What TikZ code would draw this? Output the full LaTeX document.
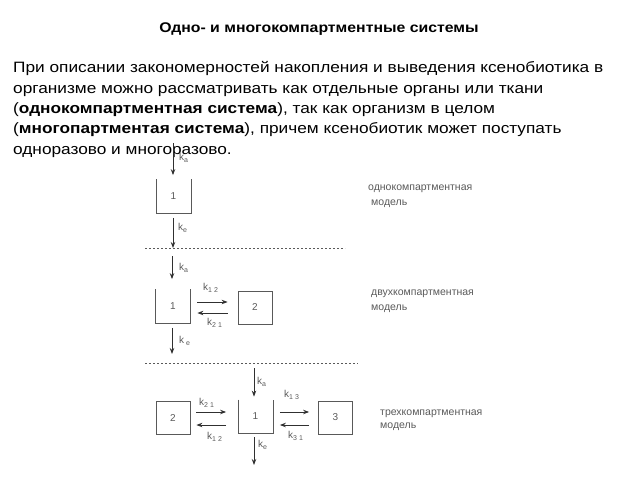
\documentclass[tikz,border=0pt]{standalone}
\usepackage{fontspec}
\setmainfont{Liberation Sans}
\newfontfamily\widefont{Liberation Sans}[FakeStretch=1.15]
\newfontfamily\titlefont{Liberation Sans}[FakeStretch=1.13]
\usetikzlibrary{arrows.meta}
\definecolor{lbl}{HTML}{5A5A5A}
\definecolor{ln}{HTML}{303030}
\tikzset{
  arr/.style={draw=ln, line width=0.9pt, -{Stealth[length=6pt,width=4.5pt]}},
  boxc/.style={draw=ln!80, line width=0.8pt, minimum width=34pt, minimum height=33pt, inner sep=0pt, text=lbl, font=\fontsize{10}{12}\selectfont},
  boxo/.style={boxc, draw=none},
  kl/.style={anchor=west, inner sep=0pt, text=lbl, font=\fontsize{10}{12}\selectfont},
  note/.style={anchor=base west, inner sep=0pt, text=lbl, align=left, font=\fontsize{10.5}{14}\selectfont},
  para/.style={anchor=base west, inner sep=0pt, font=\widefont\fontsize{15}{20}\selectfont},
  sep/.style={draw=lbl, line width=0.6pt, dash pattern=on 2pt off 2pt},
}
\begin{document}
\begin{tikzpicture}[x=1pt,y=-1pt]
\useasboundingbox (0,0) rectangle (640,480);
\node[anchor=base, inner sep=0pt, font=\titlefont\bfseries\fontsize{14}{16}\selectfont] (title) at (319,32) {Одно- и многокомпартментные системы};
\node[para] (p1) at (13,72) {При описании закономерностей накопления и выведения ксенобиотика в};
\node[para] (p2) at (13,93) {организме можно рассматривать как отдельные органы или ткани};
\node[para] (p3) at (13,113) {(\textbf{однокомпартментная система}), так как организм в целом};
\node[para] (p4) at (13,133) {(\textbf{многопартментая система}), причем ксенобиотик может поступать};
\node[para] (p5) at (13,154) {одноразово и многоразово.};

% ---- one-compartment
\node[boxo] (A1) at (173.5,196) {1};
\draw[draw=ln!80, line width=0.8pt] (A1.north west) -- (A1.south west) -- (A1.south east) -- (A1.north east);
\coordinate (A1in) at (173,143);
\coordinate (A1out) at (173,248);
\draw[arr, shorten >=4pt] (A1in) -- (A1in |- A1.north);
\draw[arr, shorten <=5pt] (A1in |- A1.south) -- (A1out);
\node[kl] (A1ka) at (179,158) {k\textsubscript{a}};
\node[kl] (A1ke) at (178,228) {k\textsubscript{e}};
\coordinate (s1a) at (145,248);
\coordinate (s1b) at (345,248);
\draw[sep] (s1a) -- (s1b);
\node[note] (n1) at (368,205) {однокомпартментная\\[1pt]\hspace*{3pt}модель};

% ---- two-compartment
\node[boxo] (B1) at (173,306) {1};
\draw[draw=ln!80, line width=0.8pt] (B1.north west) -- (B1.south west) -- (B1.south east) -- (B1.north east);
\node[boxc] (B2) at (255,307.5) {2};
\coordinate (B1in) at (172,256);
\coordinate (B1out) at (172,354);
\draw[arr, shorten >=10pt] (B1in) -- (B1in |- B1.north);
\draw[arr, shorten <=5pt] (B1in |- B1.south) -- (B1out);
\draw[arr, shorten <=7pt, shorten >=10pt] (B1.east |- 0,302) -- (B2.west |- 0,302);
\draw[arr, shorten <=10pt, shorten >=7pt] (B2.west |- 0,313) -- (B1.east |- 0,313);
\node[kl] (B1ka) at (179,268) {k\textsubscript{a}};
\node[kl] (B1ke) at (179,341) {k\textsubscript{ e}};
\node[kl] (B12) at (203,288) {k\textsubscript{1 2}};
\node[kl] (B21) at (207,323) {k\textsubscript{2 1}};
\coordinate (s2a) at (145,363);
\coordinate (s2b) at (358,363);
\draw[sep] (s2a) -- (s2b);
\node[note] (n2) at (371,310) {двухкомпартментная\\[1pt]модель};

% ---- three-compartment
\node[boxo] (C1) at (255.5,416.5) {1};
\draw[draw=ln!80, line width=0.8pt] (C1.north west) -- (C1.south west) -- (C1.south east) -- (C1.north east);
\node[boxc] (C2) at (173,418) {2};
\node[boxc] (C3) at (335.5,417.5) {3};
\coordinate (C1in) at (254,368);
\coordinate (C1out) at (254,465);
\draw[arr, shorten >=3pt] (C1in) -- (C1in |- C1.north);
\draw[arr, shorten <=4pt] (C1in |- C1.south) -- (C1out);
\draw[arr, shorten <=6pt, shorten >=12pt] (C2.east |- 0,412) -- (C1.west |- 0,412);
\draw[arr, shorten <=12pt, shorten >=6pt] (C1.west |- 0,425) -- (C2.east |- 0,425);
\draw[arr, shorten <=7pt, shorten >=9pt] (C1.east |- 0,412) -- (C3.west |- 0,412);
\draw[arr, shorten <=9pt, shorten >=7pt] (C3.west |- 0,425) -- (C1.east |- 0,425);
\node[kl] (C1ka) at (257,382) {k\textsubscript{a}};
\node[kl] (C1ke) at (258,445) {k\textsubscript{e}};
\node[kl] (C21) at (199,403) {k\textsubscript{2 1}};
\node[kl] (C12) at (207,437) {k\textsubscript{1 2}};
\node[kl] (C13) at (284,395) {k\textsubscript{1 3}};
\node[kl] (C31) at (288,436) {k\textsubscript{3 1}};
\node[note] (n3) at (380,428) {трехкомпартментная\\[-1pt]модель};
\end{tikzpicture}
\end{document}
